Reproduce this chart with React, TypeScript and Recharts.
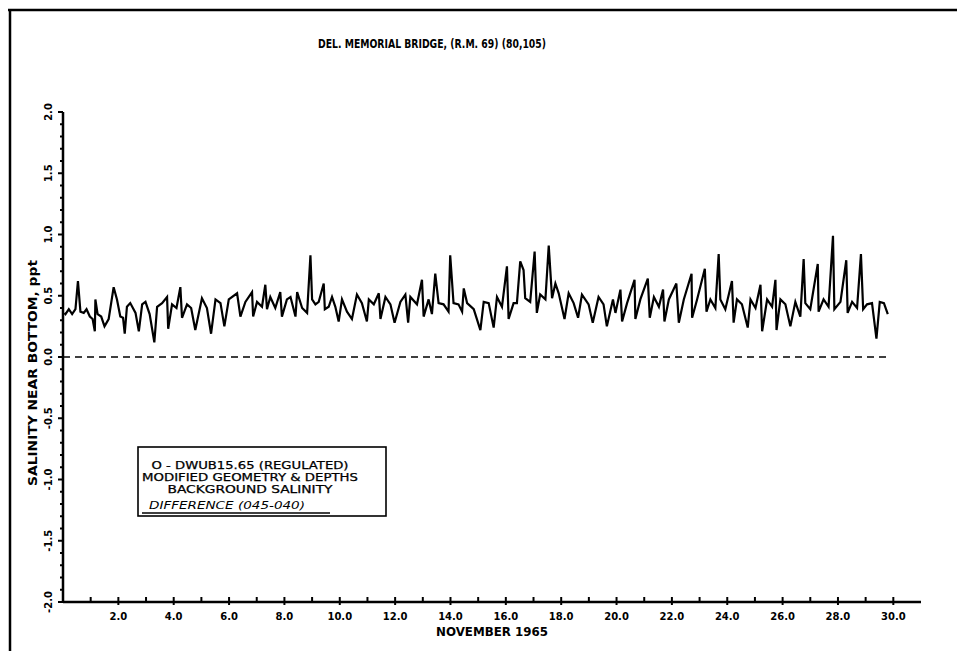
import { LineChart, Line, XAxis, YAxis, ReferenceLine } from 'recharts'

// Nov 1965, day of month (0 = start of Nov 1) vs salinity difference near bottom, ppt
const nov1to10: [number, number][] = [
  [0.05, 0.36], [0.09, 0.35], [0.21, 0.39], [0.33, 0.35], [0.45, 0.39], [0.54, 0.62], [0.63, 0.37],
  [0.75, 0.36], [0.85, 0.39], [0.97, 0.33], [1.07, 0.31], [1.15, 0.21], [1.17, 0.47], [1.25, 0.35],
  [1.38, 0.33], [1.5, 0.25], [1.65, 0.31], [1.83, 0.57], [1.95, 0.47], [2.07, 0.33], [2.17, 0.32],
  [2.23, 0.19], [2.31, 0.41], [2.43, 0.44], [2.62, 0.36], [2.74, 0.21], [2.86, 0.43], [2.98, 0.45],
  [3.13, 0.35], [3.3, 0.12], [3.4, 0.41], [3.58, 0.44], [3.76, 0.49], [3.8, 0.23], [3.94, 0.43],
  [4.1, 0.4], [4.24, 0.57], [4.3, 0.32], [4.48, 0.43], [4.63, 0.4], [4.78, 0.22], [5.02, 0.48],
  [5.2, 0.4], [5.35, 0.19], [5.51, 0.47], [5.69, 0.44], [5.83, 0.25], [5.99, 0.47], [6.29, 0.52],
  [6.41, 0.33], [6.59, 0.45], [6.83, 0.53], [6.87, 0.33], [7.01, 0.45], [7.19, 0.41], [7.31, 0.59],
  [7.37, 0.39], [7.49, 0.49], [7.67, 0.4], [7.85, 0.53], [7.91, 0.33], [8.09, 0.47], [8.22, 0.49],
  [8.4, 0.33], [8.46, 0.53], [8.64, 0.4], [8.82, 0.36], [8.94, 0.83], [9.0, 0.47], [9.12, 0.43],
  [9.24, 0.45], [9.42, 0.6], [9.46, 0.39], [9.6, 0.41], [9.72, 0.49], [9.84, 0.41], [9.96, 0.29],
]

const nov11to20: [number, number][] = [
  [10.08, 0.47], [10.26, 0.37], [10.44, 0.31], [10.62, 0.51], [10.8, 0.44], [10.98, 0.29], [11.05, 0.47],
  [11.23, 0.43], [11.41, 0.52], [11.47, 0.31], [11.65, 0.49], [11.83, 0.43], [11.98, 0.28], [12.19, 0.45],
  [12.37, 0.51], [12.47, 0.28], [12.55, 0.49], [12.79, 0.43], [12.97, 0.63], [13.03, 0.33], [13.21, 0.47],
  [13.33, 0.35], [13.45, 0.68], [13.57, 0.44], [13.75, 0.43], [13.93, 0.37], [13.99, 0.83], [14.11, 0.44],
  [14.29, 0.43], [14.42, 0.37], [14.48, 0.56], [14.6, 0.44], [14.84, 0.39], [15.08, 0.22], [15.2, 0.45],
  [15.38, 0.44], [15.56, 0.24], [15.68, 0.49], [15.86, 0.41], [16.04, 0.74], [16.1, 0.31], [16.28, 0.44],
  [16.4, 0.44], [16.52, 0.78], [16.64, 0.71], [16.7, 0.48], [16.88, 0.45], [17.04, 0.86], [17.12, 0.36],
  [17.24, 0.51], [17.43, 0.47], [17.55, 0.91], [17.67, 0.48], [17.79, 0.6], [17.91, 0.52], [18.12, 0.31],
  [18.27, 0.52], [18.45, 0.44], [18.61, 0.32], [18.75, 0.51], [18.99, 0.43], [19.14, 0.28], [19.35, 0.49],
  [19.53, 0.43], [19.65, 0.25], [19.87, 0.47],
]

const nov21to30: [number, number][] = [
  [19.96, 0.36], [20.14, 0.55], [20.2, 0.29], [20.38, 0.44], [20.65, 0.63], [20.68, 0.31], [20.86, 0.47],
  [21.13, 0.64], [21.2, 0.32], [21.35, 0.49], [21.53, 0.41], [21.68, 0.55], [21.73, 0.29], [21.89, 0.47],
  [22.16, 0.6], [22.25, 0.28], [22.43, 0.47], [22.71, 0.68], [22.73, 0.32], [22.91, 0.47], [23.19, 0.72],
  [23.25, 0.37], [23.39, 0.47], [23.57, 0.4], [23.69, 0.84], [23.75, 0.47], [23.93, 0.39], [24.17, 0.62],
  [24.23, 0.28], [24.35, 0.47], [24.53, 0.43], [24.74, 0.24], [24.84, 0.47], [25.02, 0.4], [25.2, 0.59],
  [25.26, 0.21], [25.44, 0.47], [25.62, 0.41], [25.74, 0.63], [25.78, 0.22], [25.92, 0.47], [26.1, 0.43],
  [26.28, 0.25], [26.46, 0.45], [26.64, 0.33], [26.76, 0.8], [26.82, 0.44], [27.0, 0.39], [27.27, 0.76],
  [27.3, 0.37], [27.48, 0.47], [27.66, 0.41], [27.82, 0.99], [27.87, 0.39], [28.09, 0.45], [28.3, 0.79],
  [28.35, 0.36], [28.51, 0.45], [28.69, 0.4], [28.83, 0.84], [28.91, 0.39], [29.05, 0.43], [29.23, 0.44],
  [29.39, 0.15], [29.51, 0.45], [29.66, 0.44], [29.8, 0.35],
]

const zeroLine = [{ x: 0, y: 0 }, { x: 29.8, y: 0 }]

const dayTicks = [
  1, 2, 3, 4, 5, 6, 7, 8, 9, 10, 11, 12, 13, 14, 15, 16, 17, 18, 19, 20,
  21, 22, 23, 24, 25, 26, 27, 28, 29, 30,
]

const salinityTicks = [
  -2.0, -1.9, -1.8, -1.7, -1.6, -1.5, -1.4, -1.3, -1.2, -1.1, -1.0, -0.9, -0.8, -0.7,
  -0.6, -0.5, -0.4, -0.3, -0.2, -0.1, 0.0, 0.1, 0.2, 0.3, 0.4, 0.5, 0.6, 0.7, 0.8, 0.9,
  1.0, 1.1, 1.2, 1.3, 1.4, 1.5, 1.6, 1.7, 1.8, 1.9, 2.0,
]

const title = 'DEL. MEMORIAL BRIDGE, (R.M. 69) (80,105)'
const xTitle = 'NOVEMBER 1965'
const yTitle = 'SALINITY NEAR BOTTOM, ppt'
const legendLines = ['O - DWUB15.65 (REGULATED)', 'MODIFIED GEOMETRY & DEPTHS', 'BACKGROUND SALINITY']
const legendSeries = 'DIFFERENCE (045-040)'

const data = [...nov1to10, ...nov11to20, ...nov21to30].map(([day, s]) => ({ day, s }))

const font = "'DejaVu Sans', sans-serif"

function DayTick({ x, y, payload }: any) {
  const d = payload.value
  const major = d % 2 === 0
  return (
    <g>
      <line x1={x} x2={x} y1={y - 5} y2={y + (major ? 3 : 0)} stroke="#000" strokeWidth={2} />
      {major && (
        <text x={x} y={y + 18} textAnchor="middle" fontFamily={font} fontWeight="bold" fontSize={10}>
          {d.toFixed(1)}
        </text>
      )}
    </g>
  )
}

function SalTick({ x, y, payload }: any) {
  const v = payload.value
  const major = Math.abs(v * 2 - Math.round(v * 2)) < 1e-6
  return (
    <g>
      <line x1={x - (major ? 5 : 3)} x2={x} y1={y} y2={y} stroke="#000" strokeWidth={2} />
      {major && (
        <text
          x={48}
          y={y}
          transform={`rotate(-90 48 ${y})`}
          textAnchor="middle"
          dominantBaseline="central"
          fontFamily={font}
          fontWeight="bold"
          fontSize={10}
        >
          {v.toFixed(1)}
        </text>
      )}
    </g>
  )
}

export default function App() {
  return (
    <div style={{ position: 'absolute', left: 0, top: 0, width: 957, height: 651, background: '#fff' }}>
      <LineChart width={957} height={651} data={data} margin={{ top: 112, right: 36, bottom: 0, left: 0 }}>
        <XAxis
          type="number"
          dataKey="day"
          domain={[0, 31]}
          ticks={dayTicks}
          interval={0}
          height={49}
          tickSize={0}
          tickMargin={0}
          tickLine={false}
          axisLine={{ stroke: '#000', strokeWidth: 2.5 }}
          tick={<DayTick />}
        />
        <YAxis
          type="number"
          domain={[-2, 2]}
          ticks={salinityTicks}
          interval={0}
          width={63}
          tickSize={0}
          tickMargin={0}
          tickLine={false}
          axisLine={{ stroke: '#000', strokeWidth: 2.5 }}
          tick={<SalTick />}
        />
        <ReferenceLine segment={zeroLine} stroke="#000" strokeWidth={1.6} strokeDasharray="7 5" />
        <Line
          type="linear"
          dataKey="s"
          stroke="#000"
          strokeWidth={2.2}
          dot={false}
          isAnimationActive={false}
        />
      </LineChart>
      <svg
        width={957}
        height={651}
        style={{ position: 'absolute', left: 0, top: 0, pointerEvents: 'none' }}
      >
        <line x1={8} x2={957} y1={10} y2={10} stroke="#000" strokeWidth={2.5} />
        <line x1={10} x2={10} y1={10} y2={651} stroke="#000" strokeWidth={2.5} />
        <text
          x={432}
          y={48}
          textAnchor="middle"
          fontFamily={font}
          fontWeight="bold"
          fontSize={12}
          textLength={228}
          lengthAdjust="spacingAndGlyphs"
        >
          {title}
        </text>
        <text
          x={492}
          y={636}
          textAnchor="middle"
          fontFamily={font}
          fontWeight="bold"
          fontSize={12}
          textLength={112}
          lengthAdjust="spacingAndGlyphs"
        >
          {xTitle}
        </text>
        <text
          x={33}
          y={373}
          transform="rotate(-90 33 373)"
          textAnchor="middle"
          dominantBaseline="central"
          fontFamily={font}
          fontWeight="bold"
          fontSize={12}
          textLength={226}
          lengthAdjust="spacingAndGlyphs"
        >
          {yTitle}
        </text>
        <rect x={138} y={447} width={248} height={69} fill="#fff" stroke="#000" strokeWidth={1.6} />
        {legendLines.map((t, i) => (
          <text
            key={t}
            x={250}
            y={469 + i * 12}
            textAnchor="middle"
            fontFamily={font}
            fontSize={10}
            stroke="#000"
            strokeWidth={0.25}
            textLength={[197, 216, 165][i]}
            lengthAdjust="spacingAndGlyphs"
          >
            {t}
          </text>
        ))}
        <text
          x={149}
          y={509}
          fontFamily={font}
          fontStyle="italic"
          fontSize={10}
          textLength={156}
          lengthAdjust="spacingAndGlyphs"
        >
          {legendSeries}
        </text>
        <line x1={142} x2={330} y1={513} y2={513} stroke="#000" strokeWidth={1.3} />
      </svg>
    </div>
  )
}
